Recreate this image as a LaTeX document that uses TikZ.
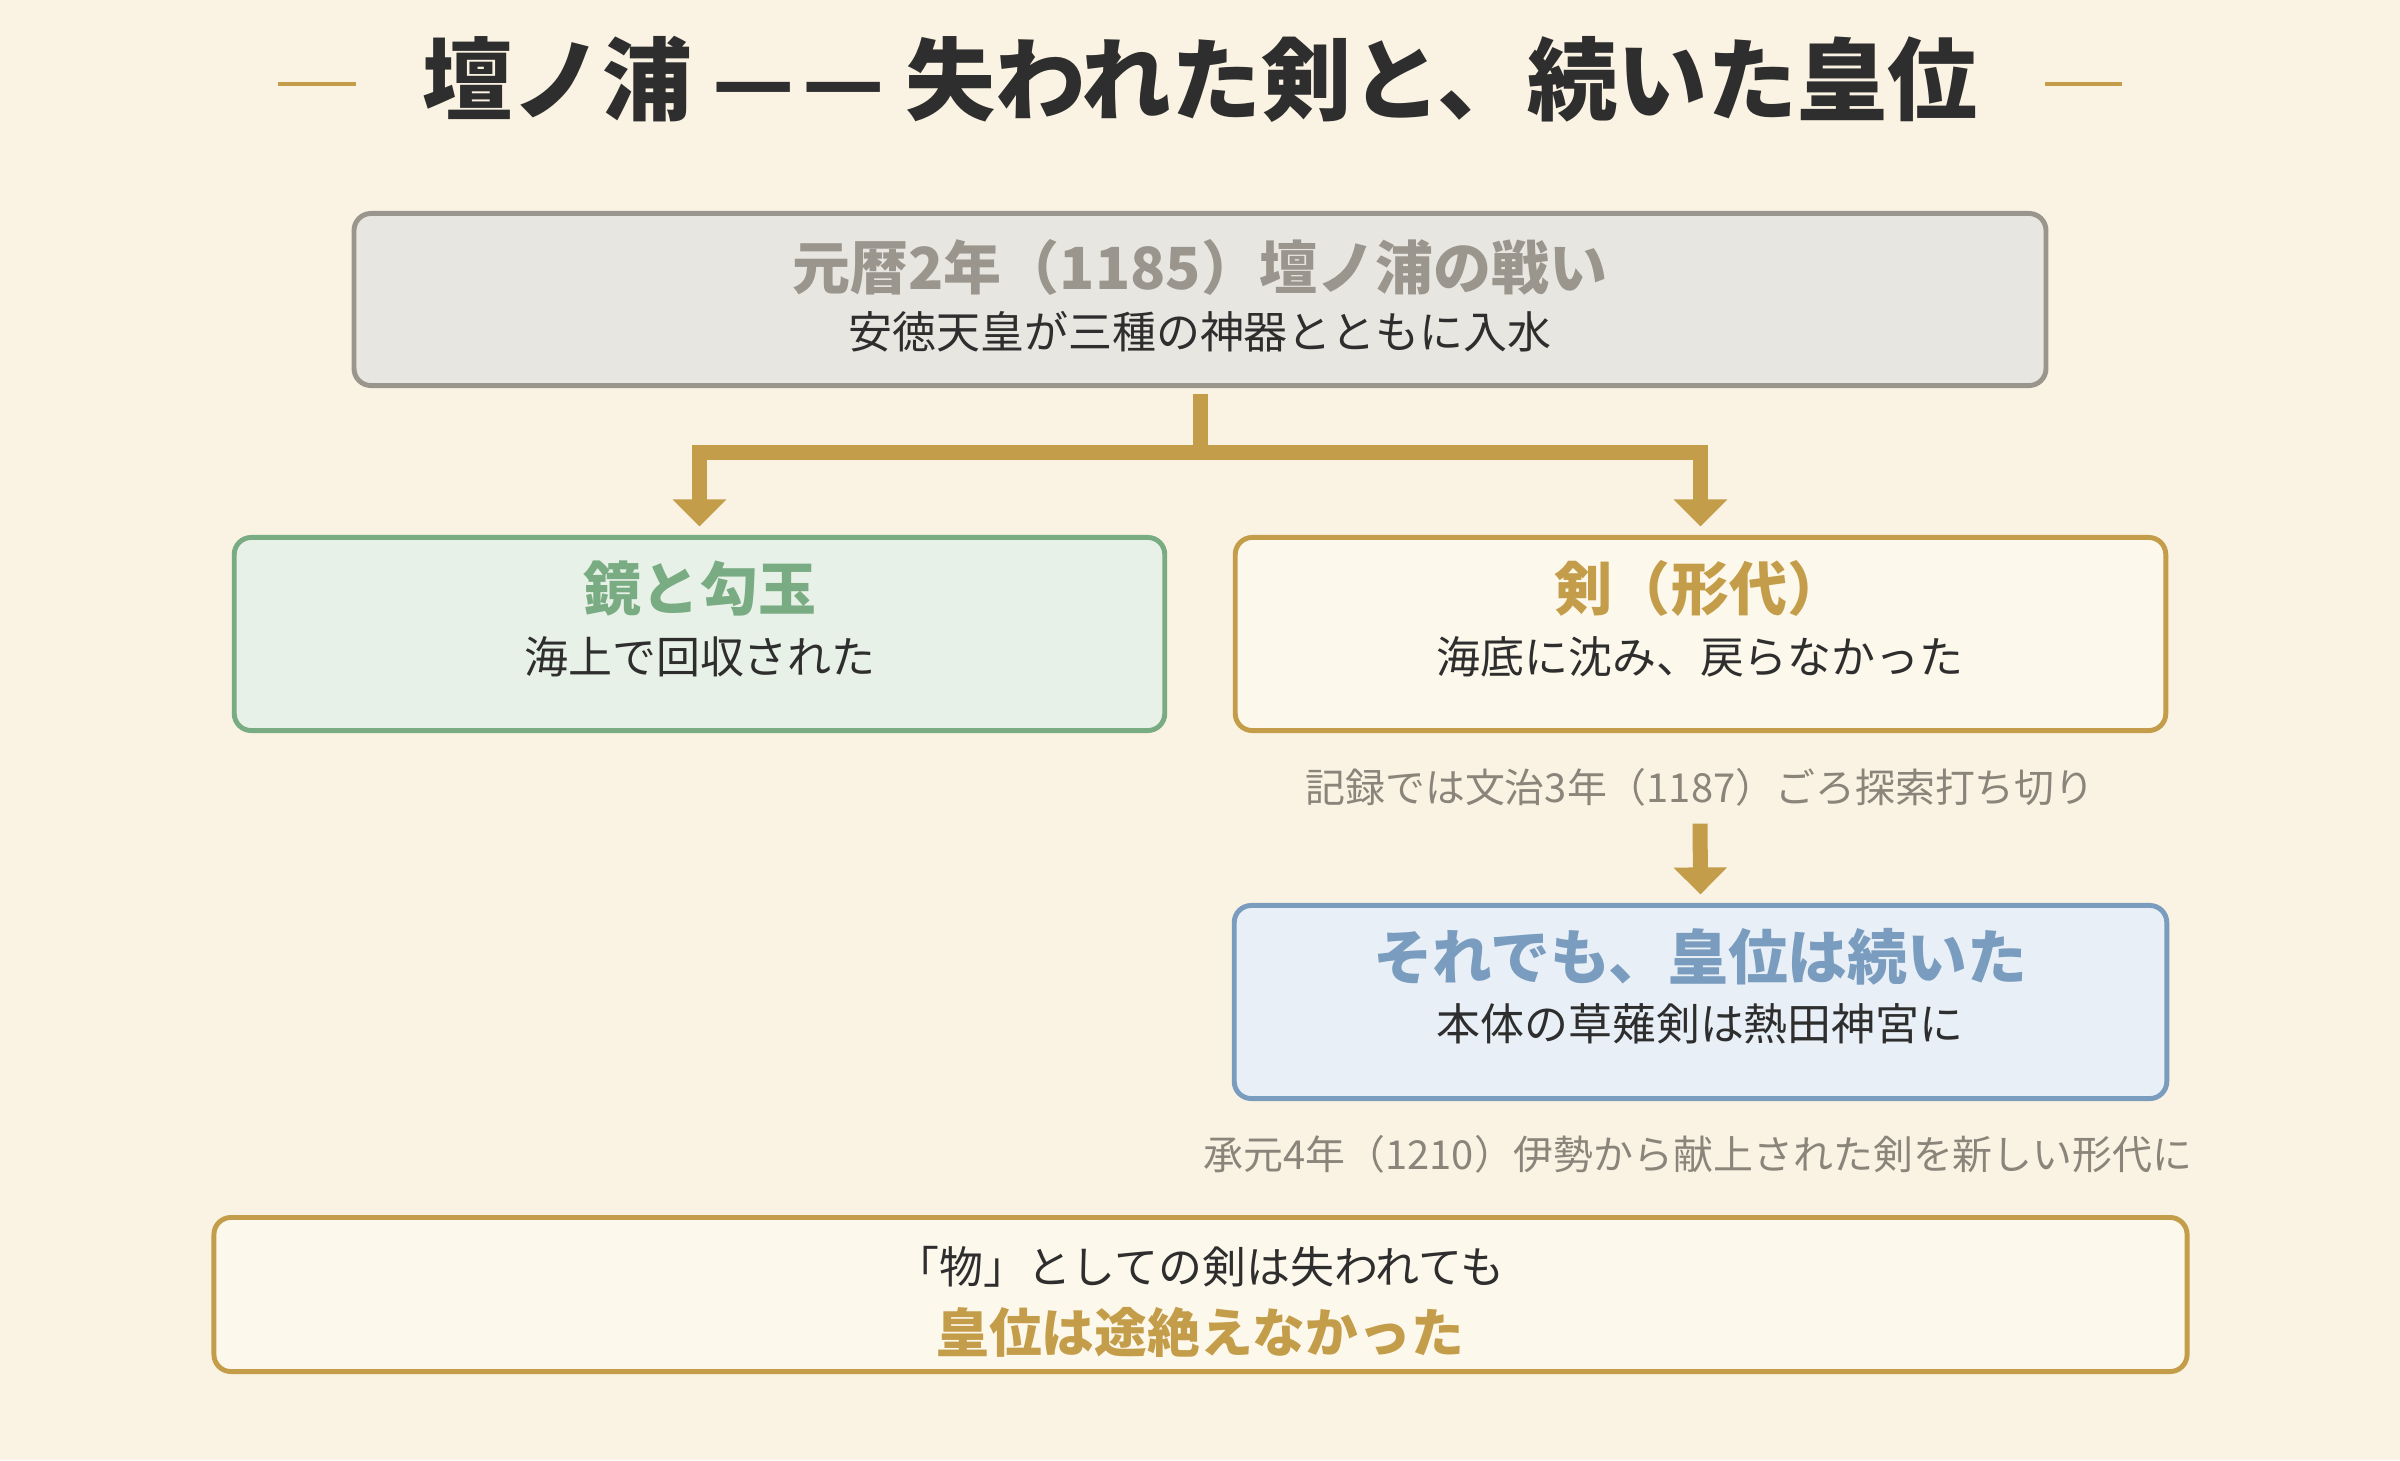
\documentclass[tikz,border=0pt]{standalone}
\usepackage{fontspec}
\setmainfont{Noto Sans CJK JP}
\usetikzlibrary{arrows.meta,positioning}
\usepackage{xcolor}
\definecolor{paper}{HTML}{FAF3E3}
\definecolor{gold}{HTML}{C49D4A}
\definecolor{ink}{HTML}{2E2E2E}
\definecolor{stone}{HTML}{9A958D}
\definecolor{stonefill}{HTML}{E8E6E1}
\definecolor{sage}{HTML}{79AC82}
\definecolor{sagefill}{HTML}{E8F1E7}
\definecolor{creamfill}{HTML}{FDF8EC}
\definecolor{steel}{HTML}{7A9DBF}
\definecolor{steelfill}{HTML}{E8EFF6}
\definecolor{notegray}{HTML}{8A847B}

\tikzset{
	box/.style={draw, rounded corners=0.17cm, line width=1.4pt, outer sep=0pt, inner sep=0pt},
	lbl/.style={inner sep=0pt, text height=.83em, text depth=.07em},
	head/.style={lbl, font=\fontsize{16.5pt}{20pt}\selectfont\bfseries},
	sub/.style={lbl, text=ink, font=\fontsize{12.5pt}{15pt}\selectfont},
	note/.style={lbl, text=notegray, font=\fontsize{11.35pt}{14pt}\selectfont},
	link/.style={draw=gold, line width=0.15cm, line join=miter, -{Triangle[length=0.27cm, width=0.52cm]}},
}

\begin{document}
\begin{tikzpicture}[x=0.01cm, y=-0.01cm]
	\fill[paper] (0,0) rectangle (2400,1460);
	\useasboundingbox (0,0) rectangle (2400,1460);

	% title
	\node (title) [lbl, text=ink, font=\fontsize{25.6pt}{30pt}\selectfont\bfseries] at (1200,100) {壇ノ浦 —\kern.08em— 失われた剣と、続いた皇位};
	\draw[gold, line width=0.9pt] ([xshift=-1.43cm]title.west |- 0,84) -- ([xshift=-0.66cm]title.west |- 0,84);
	\draw[gold, line width=0.9pt] ([xshift=0.66cm]title.east |- 0,84) -- ([xshift=1.43cm]title.east |- 0,84);

	% boxes
	\node (battle) [box, draw=stone, fill=stonefill, minimum width=16.91cm, minimum height=1.72cm] at (1200,299.5) {};
	\node (mirror) [box, draw=sage, fill=sagefill, minimum width=9.30cm, minimum height=1.93cm] at (699.5,634) {};
	\node (sword) [box, draw=gold, fill=creamfill, minimum width=9.30cm, minimum height=1.93cm] at (1700.5,634) {};
	\node (heir) [box, draw=steel, fill=steelfill, minimum width=9.32cm, minimum height=1.93cm] at (1700.5,1002) {};
	\node (coda) [box, draw=gold, fill=creamfill, minimum width=19.72cm, minimum height=1.54cm] at (1200.5,1294.5) {};

	% texts
	\node (battleT) [head, text=stone] at (1200,276) {元暦2年（1185）壇ノ浦の戦い};
	\node (battleS) [sub] at (1200,335) {安徳天皇が三種の神器とともに入水};
	\node (mirrorT) [head, text=sage] at (700,597) {鏡と勾玉};
	\node (mirrorS) [sub] at (700,660) {海上で回収された};
	\node (swordT) [head, text=gold] at (1700,597) {剣（形代）};
	\node (swordS) [sub] at (1700,660) {海底に沈み、戻らなかった};
	\node (search) [note] at (1700,789) {記録では文治3年（1187）ごろ探索打ち切り};
	\node (heirT) [head, text=steel, font=\fontsize{17pt}{20pt}\selectfont\bfseries] at (1700,966) {それでも、皇位は続いた};
	\node (heirS) [sub] at (1700,1027) {本体の草薙剣は熱田神宮に};
	\node (ise) [note] at (1698,1156) {承元4年（1210）伊勢から献上された剣を新しい形代に};
	\node (codaA) [sub] at (1200,1270) {「物」としての剣は失われても};
	\node (codaB) [lbl, text=gold, font=\fontsize{15pt}{18pt}\selectfont\bfseries] at (1200,1339) {皇位は途絶えなかった};

	% connectors
	\coordinate (fork) at (1200,452);
	\draw[link, -, shorten <=0.08cm] (battle.south) -- (fork);
	\draw[link, shorten >=0.11cm] (fork) -| (mirror.north);
	\draw[link, shorten >=0.11cm] (fork) -| (sword.north);
	\draw[link, shorten <=0.18cm, shorten >=0.11cm] (search.south) -- (heir.north);
\end{tikzpicture}
\end{document}
